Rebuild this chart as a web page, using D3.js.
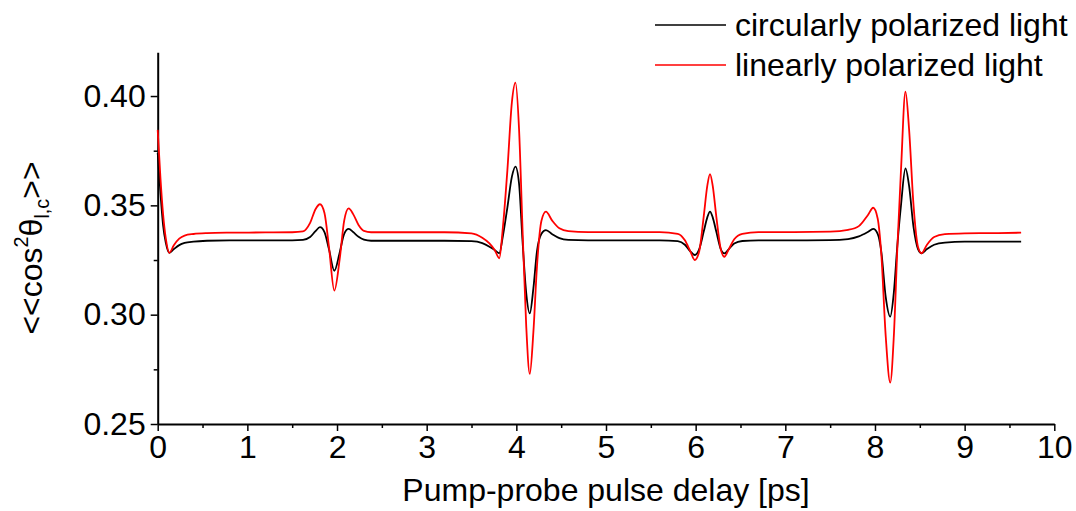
<!DOCTYPE html>
<html><head><meta charset="utf-8">
<script src="https://cdn.jsdelivr.net/npm/d3@7"></script>
<style>body{margin:0;background:#fff} text{font-family:Arial,"Liberation Sans",sans-serif;fill:#000}</style>
</head><body><svg id="c" width="1076" height="511"></svg>
<script>
const delay = [0.00,0.03,0.06,0.09,0.13,0.18,0.24,0.30,0.40,0.55,0.80,1.20,1.50,1.62,1.70,1.76,1.81,1.86,1.91,1.97,2.03,2.08,2.13,2.18,2.24,2.30,2.38,2.70,3.20,3.50,3.62,3.70,3.76,3.81,3.85,3.90,3.95,3.99,4.03,4.07,4.11,4.15,4.19,4.23,4.28,4.33,4.40,4.48,4.58,4.80,5.20,5.60,5.80,5.88,5.94,5.99,6.04,6.09,6.13,6.16,6.19,6.23,6.28,6.32,6.37,6.43,6.52,6.70,7.10,7.50,7.70,7.82,7.92,7.98,8.03,8.07,8.12,8.17,8.21,8.25,8.29,8.34,8.38,8.43,8.48,8.52,8.58,8.66,8.78,9.00,9.30,9.63];
const circular = [0.374,0.356,0.341,0.333,0.3283,0.3300,0.3318,0.3328,0.3334,0.3338,0.3340,0.3340,0.3340,0.3342,0.3355,0.3382,0.3400,0.3378,0.3300,0.3201,0.3285,0.3370,0.3392,0.3378,0.3356,0.3343,0.3338,0.3338,0.3338,0.3336,0.3327,0.3311,0.3295,0.3281,0.3360,0.3490,0.3630,0.3677,0.3600,0.3330,0.3100,0.3006,0.3120,0.3290,0.3370,0.3387,0.3368,0.3350,0.3342,0.3340,0.3340,0.3340,0.3336,0.3320,0.3290,0.3273,0.3300,0.3380,0.3445,0.3471,0.3445,0.3380,0.3300,0.3280,0.3300,0.3325,0.3337,0.3340,0.3340,0.3341,0.3346,0.3358,0.3378,0.3392,0.3370,0.3290,0.3080,0.2991,0.3100,0.3320,0.3500,0.3669,0.3590,0.3400,0.3300,0.3281,0.3300,0.3320,0.3330,0.3334,0.3334,0.3334];
const linear = [0.3845,0.363,0.346,0.335,0.3283,0.3318,0.3348,0.3362,0.3369,0.3373,0.3375,0.3376,0.3377,0.3381,0.3420,0.3482,0.3505,0.3465,0.3310,0.3110,0.3255,0.3430,0.3486,0.3460,0.3410,0.3383,0.3377,0.3377,0.3377,0.3372,0.3352,0.3326,0.3295,0.3258,0.3400,0.3660,0.3970,0.4061,0.3850,0.3380,0.2950,0.2729,0.2920,0.3220,0.3430,0.3471,0.3430,0.3395,0.3382,0.3378,0.3378,0.3378,0.3370,0.3340,0.3290,0.3250,0.3290,0.3450,0.3590,0.3643,0.3590,0.3450,0.3300,0.3265,0.3300,0.3345,0.3370,0.3378,0.3378,0.3380,0.3388,0.3405,0.3455,0.3489,0.3440,0.3280,0.2900,0.2689,0.2900,0.3310,0.3660,0.4020,0.3850,0.3500,0.3310,0.3281,0.3320,0.3355,0.3368,0.3372,0.3373,0.3375];
const xTicks = [0,1,2,3,4,5,6,7,8,9,10];
const xMinorTicks = [0.5,1.5,2.5,3.5,4.5,5.5,6.5,7.5,8.5,9.5];
const yTicks = [0.25,0.30,0.35,0.40];
const yMinorTicks = [0.275,0.325,0.375];
const seriesNames = ["circularly polarized light","linearly polarized light"];
const seriesColors = ["#000000","#ff0000"];
const xTitle = "Pump-probe pulse delay [ps]";

const svg = d3.select("#c");
const x = d3.scaleLinear().domain([0,10]).range([157.7,1054.3]);
const y = d3.scaleLinear().domain([0.25,0.42]).range([424,52.3]);
const FS = 32;

// minor ticks
svg.append("g").attr("transform","translate(0,424)")
  .call(d3.axisBottom(x).tickValues(xMinorTicks).tickSize(4).tickFormat("").tickSizeOuter(0))
  .call(g=>g.select(".domain").remove())
  .call(g=>g.selectAll("line").attr("stroke-width",1.5));
svg.append("g").attr("transform","translate(157.7,0)")
  .call(d3.axisLeft(y).tickValues(yMinorTicks).tickSize(4).tickFormat("").tickSizeOuter(0))
  .call(g=>g.select(".domain").remove())
  .call(g=>g.selectAll("line").attr("stroke-width",1.5));

const xa = svg.append("g").attr("transform","translate(0,424)")
  .call(d3.axisBottom(x).tickValues(xTicks).tickSize(7).tickPadding(4).tickFormat(d3.format("d")).tickSizeOuter(0));
xa.select(".domain").attr("stroke-width",2);
xa.selectAll("line").attr("stroke-width",1.5);
xa.selectAll("text").attr("font-size",FS).attr("font-family",null);

const ya = svg.append("g").attr("transform","translate(157.7,0)")
  .call(d3.axisLeft(y).tickValues(yTicks).tickSize(7).tickPadding(5).tickFormat(d3.format(".2f")).tickSizeOuter(0));
ya.select(".domain").attr("stroke-width",2);
ya.selectAll("line").attr("stroke-width",1.5);
ya.selectAll("text").attr("font-size",FS).attr("font-family",null);

// lines
const series = [circular, linear];
const line = d3.line().curve(d3.curveMonotoneX);
[0,1].forEach(i=>{
  const pts = delay.map((t,k)=>[x(t), y(series[i][k])]);
  svg.append("path").attr("d", line(pts)).attr("fill","none")
    .attr("stroke", seriesColors[i]).attr("stroke-width",1.8).attr("stroke-linejoin","round");
});

// x title
svg.append("text").attr("x",(x(0)+x(10))/2).attr("y",501).attr("text-anchor","middle")
  .attr("font-size",FS).text(xTitle);

// y title
const yt = svg.append("text").attr("transform","translate(42,248) rotate(-90)")
  .attr("text-anchor","middle").attr("font-size",FS);
yt.append("tspan").text("<<cos");
yt.append("tspan").attr("font-size",FS*0.62).attr("dy",-14).text("2");
yt.append("tspan").attr("dy",14).text("θ");
yt.append("tspan").attr("font-size",FS*0.62).attr("dy",7).text("l,c");
yt.append("tspan").attr("dy",-7).text(">>");

// legend
const leg = svg.append("g");
seriesNames.forEach((n,i)=>{
  const yy = 25 + i*40;
  leg.append("line").attr("x1",655).attr("x2",726).attr("y1",yy).attr("y2",yy)
    .attr("stroke",seriesColors[i]).attr("stroke-width",1.6);
  leg.append("text").attr("x",735).attr("y",yy+11).attr("font-size",FS).text(n);
});
</script></body></html>
